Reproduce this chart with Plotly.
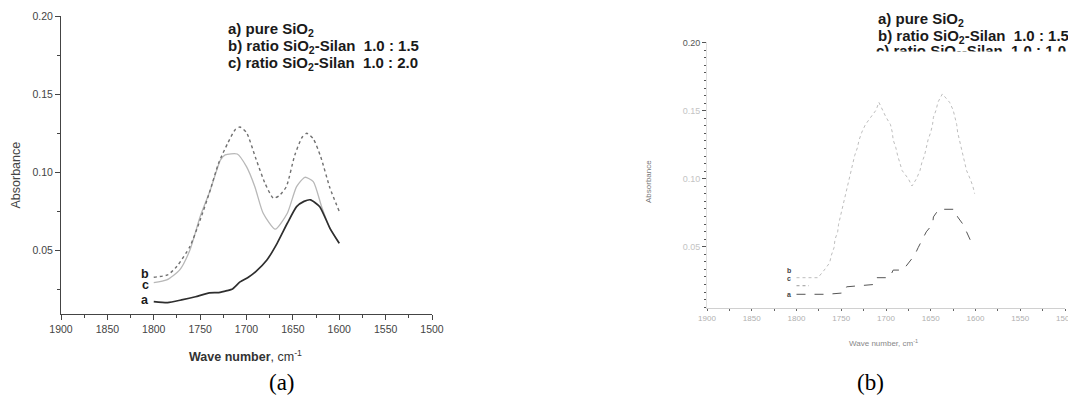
import plotly.graph_objects as go

# ---------------- Panel (a) data ----------------
wn_a = [1800, 1785, 1770, 1755, 1740, 1730, 1721, 1715, 1707, 1698, 1690, 1678, 1667, 1656, 1646, 1638, 1631, 1621, 1610, 1600]
abs_a = [0.0174, 0.0168, 0.0185, 0.0205, 0.0230, 0.0232, 0.0244, 0.0255, 0.0300, 0.0330, 0.0366, 0.0440, 0.0547, 0.0675, 0.0781, 0.0815, 0.0825, 0.0781, 0.0643, 0.0547]

wn_b = [1800, 1785, 1775, 1761, 1750, 1740, 1730, 1720, 1712, 1707, 1700, 1690, 1680, 1671, 1665, 1657, 1648, 1640, 1635, 1628, 1620, 1610, 1600]
abs_b = [0.0330, 0.0345, 0.0400, 0.0526, 0.0696, 0.0870, 0.1060, 0.1190, 0.1275, 0.1290, 0.1255, 0.1090, 0.0930, 0.0835, 0.0850, 0.0910, 0.1110, 0.1225, 0.1250, 0.1215, 0.1100, 0.0900, 0.0751]

wn_c = [1800, 1786, 1772, 1761, 1750, 1739, 1728, 1723, 1710, 1700, 1691, 1682, 1669, 1656, 1646, 1637, 1628, 1619, 1610, 1600]
abs_c = [0.0295, 0.0313, 0.0377, 0.0504, 0.0717, 0.0888, 0.1080, 0.1112, 0.1118, 0.1037, 0.0909, 0.0739, 0.0637, 0.0739, 0.0909, 0.0969, 0.0941, 0.0781, 0.0643, 0.0547]

# ---------------- Panel (b) data ----------------
wn_b_upper = [1800, 1776, 1769, 1763, 1761, 1758, 1757, 1754, 1753, 1751, 1749, 1747, 1745, 1743, 1741, 1739, 1737, 1735, 1732, 1730,
              1727, 1723, 1717, 1711, 1708, 1704, 1700, 1695, 1693, 1692, 1689, 1687, 1685, 1682, 1675, 1671, 1666, 1662, 1660, 1657,
              1655, 1653, 1650, 1648, 1647, 1644, 1642, 1637, 1629, 1625, 1623, 1621, 1620, 1618, 1616, 1614, 1612, 1610, 1606, 1603, 1601]
abs_b_upper = [0.0272, 0.0272, 0.0328, 0.0381, 0.0438, 0.0494, 0.0553, 0.0609, 0.0665, 0.0719, 0.0775, 0.0831, 0.0890, 0.0946, 0.0999, 0.1060, 0.1117, 0.1170, 0.1227, 0.1286,
               0.1342, 0.1398, 0.1452, 0.1505, 0.1562, 0.1505, 0.1452, 0.1398, 0.1342, 0.1286, 0.1227, 0.1170, 0.1117, 0.1060, 0.0999, 0.0946, 0.0999, 0.1060, 0.1117, 0.1170,
               0.1227, 0.1286, 0.1342, 0.1398, 0.1452, 0.1505, 0.1562, 0.1623, 0.1562, 0.1505, 0.1452, 0.1398, 0.1342, 0.1286, 0.1227, 0.1170, 0.1117, 0.1060, 0.0999, 0.0946, 0.0890]

wn_b_lower = [1800, 1766, 1746, 1744, 1712, 1710, 1696, 1692, 1681, 1675, 1668, 1664, 1659, 1655, 1648, 1647, 1641, 1623, 1620, 1614, 1610, 1606, 1602]
abs_b_lower = [0.0150, 0.0150, 0.0161, 0.0205, 0.0223, 0.0272, 0.0272, 0.0328, 0.0328, 0.0381, 0.0438, 0.0494, 0.0553, 0.0609, 0.0665, 0.0719, 0.0775, 0.0775, 0.0719, 0.0665, 0.0609, 0.0553, 0.0494]

wn_b_stub = [1800, 1786]
abs_b_stub = [0.0213, 0.0213]

legend_a = ["<b>a) pure SiO<sub>2</sub></b>",
            "<b>b) ratio SiO<sub>2</sub>-Silan\u00a0 1.0 : 1.5</b>",
            "<b>c) ratio SiO<sub>2</sub>-Silan\u00a0 1.0 : 2.0</b>"]
legend_b = ["<b>a) pure SiO<sub>2</sub></b>",
            "<b>b) ratio SiO<sub>2</sub>-Silan\u00a0 1.0 : 1.5</b>",
            "<b>c) ratio SiO<sub>2</sub>-Silan\u00a0 1.0 : 1.0</b>"]
ytick_vals_b = [0.05, 0.10, 0.15, 0.20]
ytick_text_b = ['<span style="color:#c4c4c4">0.05</span>', '<span style="color:#c4c4c4">0.10</span>',
                '<span style="color:#c4c4c4">0.15</span>', '0.20']

FONT = "Liberation Sans, Arial, sans-serif"
SERIF = "Liberation Serif, Times New Roman, serif"
W, H = 1076, 396
OFF = 8  # page body margin offset


def px(x):
    return (x - OFF) / W


def py(y):
    return 1 - (y - OFF) / H


fig = go.Figure()

# panel (a) curves
fig.add_trace(go.Scatter(x=wn_c, y=abs_c, mode='lines', xaxis='x', yaxis='y',
                         line=dict(color='#b8b8b8', width=1.3, shape='spline', smoothing=0.6)))
fig.add_trace(go.Scatter(x=wn_b, y=abs_b, mode='lines', xaxis='x', yaxis='y',
                         line=dict(color='#707070', width=1.4, dash='dot', shape='spline', smoothing=0.6)))
fig.add_trace(go.Scatter(x=wn_a, y=abs_a, mode='lines', xaxis='x', yaxis='y',
                         line=dict(color='#2e2e2e', width=1.7, shape='spline', smoothing=0.5)))

# panel (b) curves
fig.add_trace(go.Scatter(x=wn_b_upper, y=abs_b_upper, mode='lines', xaxis='x2', yaxis='y2',
                         line=dict(color='#bdbdbd', width=1, dash='dot')))
fig.add_trace(go.Scatter(x=wn_b_stub, y=abs_b_stub, mode='lines', xaxis='x2', yaxis='y2',
                         line=dict(color='#999999', width=1, dash='dot')))
fig.add_trace(go.Scatter(x=wn_b_lower, y=abs_b_lower, mode='lines', xaxis='x2', yaxis='y2',
                         line=dict(color='#555555', width=1, dash='dash')))

# clipped third legend line of panel (b)
fig.add_trace(go.Scatter(x=[0.0], y=[-0.02], mode='text', xaxis='x3', yaxis='y3',
                         text=[legend_b[2]], textposition='middle right', cliponaxis=True,
                         textfont=dict(family=FONT, size=15, color='#1a1a1a')))

axis_common = dict(showgrid=False, zeroline=False, showline=True, automargin=False)

fig.update_layout(
    template='none',
    width=W, height=H, margin=dict(l=0, r=0, t=0, b=0, autoexpand=False),
    paper_bgcolor='white', plot_bgcolor='rgba(0,0,0,0)', showlegend=False,
    xaxis=dict(domain=[px(61), px(432)], anchor='y', range=[1900, 1500], tickmode='linear', tick0=1500, dtick=50,
               linecolor='#444', linewidth=1, ticks='outside', ticklen=5, tickcolor='#444',
               minor=dict(dtick=25, ticks='outside', ticklen=3, tickcolor='#444'),
               tickfont=dict(family=FONT, size=10.5, color='#444'), **axis_common),
    yaxis=dict(domain=[py(314), py(16)], anchor='x', range=[0.0095, 0.2], tickmode='linear', tick0=0, dtick=0.05,
               tickformat='.2f', linecolor='#444', linewidth=1, ticks='outside', ticklen=5, tickcolor='#444',
               minor=dict(tick0=0, dtick=0.025, ticks='outside', ticklen=3, tickcolor='#444'),
               tickfont=dict(family=FONT, size=10.5, color='#444'), **axis_common),
    xaxis2=dict(domain=[px(707), px(1065)], anchor='y2', range=[1900, 1500], tickmode='linear', tick0=1500, dtick=50,
                linecolor='#d0d0d0', linewidth=1, ticks='outside', ticklen=2, tickcolor='#666',
                minor=dict(dtick=25, ticks='outside', ticklen=2, tickcolor='#666'),
                tickfont=dict(family=FONT, size=8, color='#b0b0b0'), **axis_common),
    yaxis2=dict(domain=[py(308.3), py(42)], anchor='x2', range=[0.0047, 0.2005], tickmode='array',
                tickvals=ytick_vals_b, ticktext=ytick_text_b,
                linecolor='#e0e0e0', linewidth=1, ticks='outside', ticklen=4, tickcolor='#555',
                minor=dict(tick0=0, dtick=0.05 / 9, ticks='outside', ticklen=2, tickcolor='#555'),
                tickfont=dict(family=FONT, size=9, color='#555'), **axis_common),
    xaxis3=dict(domain=[px(876), 1.0], anchor='y3', range=[0, 1], visible=False, automargin=False),
    yaxis3=dict(domain=[py(51.5), 1.0], anchor='x3', range=[0, 1], visible=False, automargin=False),
)

ann = []
# legend text panel (a)
for i, t in enumerate(legend_a):
    ann.append(dict(x=px(226), y=py(29.5 + 17 * i), text=t, showarrow=False, xanchor='left', yanchor='middle',
                    xref='paper', yref='paper', font=dict(family=FONT, size=15, color='#1a1a1a')))
# legend text panel (b), first two lines
for i, t in enumerate(legend_b[:2]):
    ann.append(dict(x=px(876), y=py(20 + 16.3 * i), text=t, showarrow=False, xanchor='left', yanchor='middle',
                    xref='paper', yref='paper', font=dict(family=FONT, size=15, color='#1a1a1a')))
# curve labels panel (a)
for lab, yy in [('b', 273.5), ('c', 284.5), ('a', 299.5)]:
    ann.append(dict(x=px(145), y=py(yy), text='<b>%s</b>' % lab, showarrow=False, xanchor='center', yanchor='middle',
                    xref='paper', yref='paper', font=dict(family=FONT, size=12.5, color='#1a1a1a')))
# curve labels panel (b)
for lab, yy in [('b', 270), ('c', 278), ('a', 294)]:
    ann.append(dict(x=px(789), y=py(yy), text='<b>%s</b>' % lab, showarrow=False, xanchor='center', yanchor='middle',
                    xref='paper', yref='paper', font=dict(family=FONT, size=7, color='#444')))
# axis titles panel (a)
ann.append(dict(x=px(15.5), y=py(175), text='Absorbance', textangle=-90, showarrow=False, xref='paper', yref='paper',
                xanchor='center', yanchor='middle', font=dict(family=FONT, size=12.5, color='#444')))
ann.append(dict(x=px(245), y=py(356), text='<b>Wave number</b>, cm<sup>-1</sup>', showarrow=False, xref='paper',
                yref='paper', xanchor='center', yanchor='middle', font=dict(family=FONT, size=12.5, color='#333')))
# axis titles panel (b)
ann.append(dict(x=px(648), y=py(182), text='Absorbance', textangle=-90, showarrow=False, xref='paper', yref='paper',
                xanchor='center', yanchor='middle', font=dict(family=FONT, size=8, color='#777')))
ann.append(dict(x=px(883), y=py(343), text='Wave number, cm<sup>-1</sup>', showarrow=False, xref='paper',
                yref='paper', xanchor='center', yanchor='middle', font=dict(family=FONT, size=8, color='#888')))
# panel captions
ann.append(dict(x=px(282), y=py(382), text='(a)', showarrow=False, xref='paper', yref='paper',
                xanchor='center', yanchor='middle', font=dict(family=SERIF, size=23, color='#000')))
ann.append(dict(x=px(871), y=py(382), text='(b)', showarrow=False, xref='paper', yref='paper',
                xanchor='center', yanchor='middle', font=dict(family=SERIF, size=23, color='#000')))

fig.update_layout(annotations=ann)
fig.write_html("out.html")
